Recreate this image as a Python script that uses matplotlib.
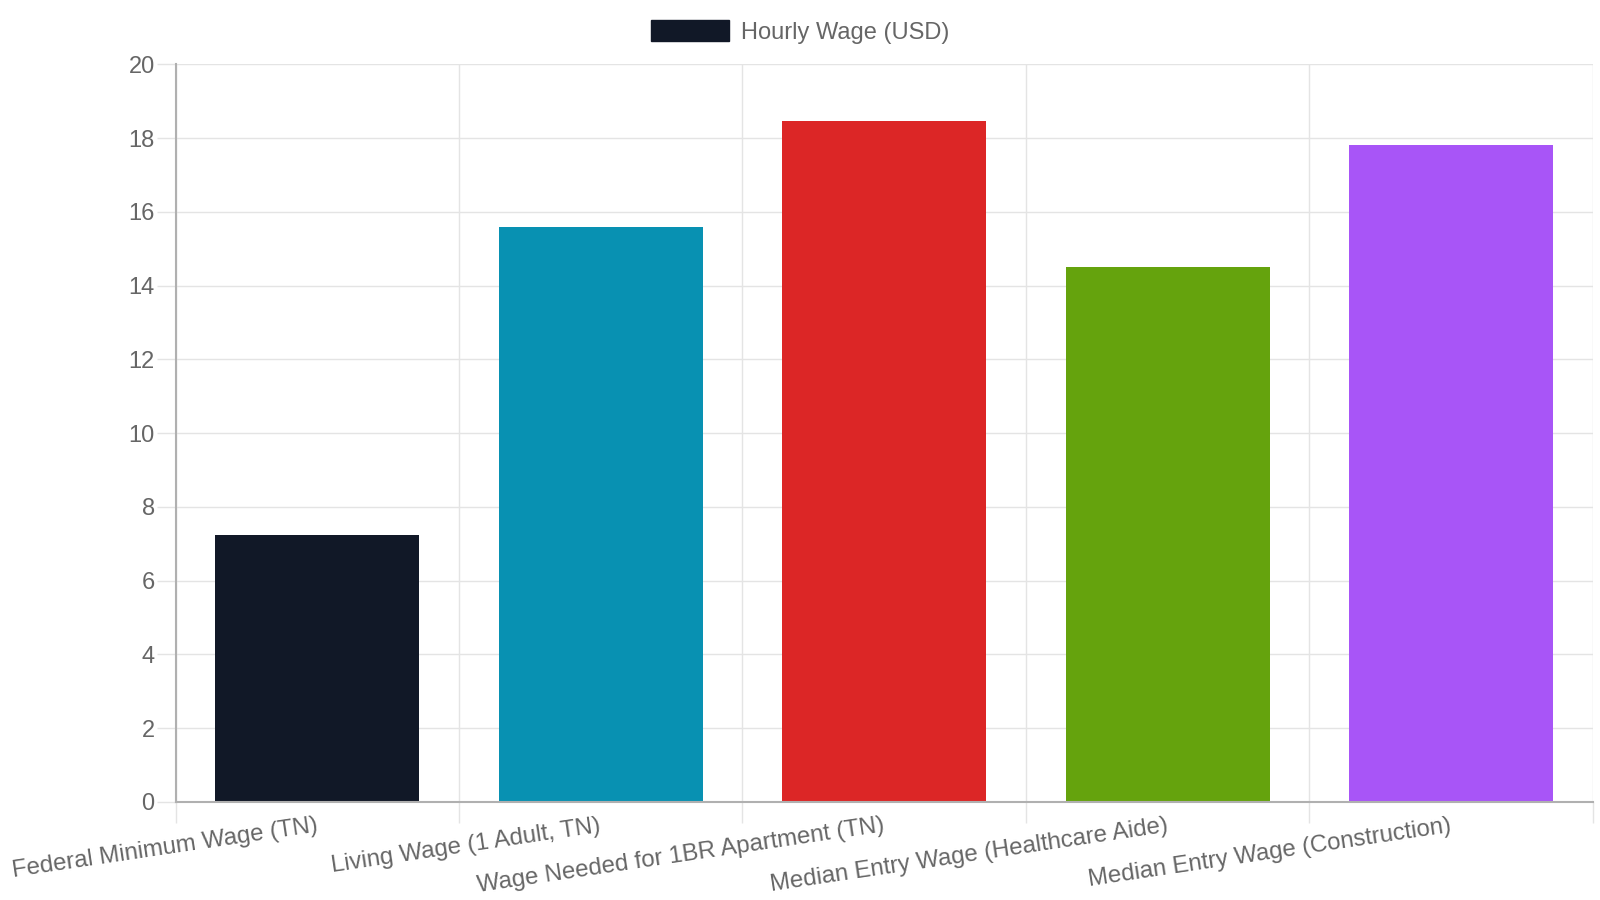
import matplotlib.pyplot as plt
from matplotlib.patches import Patch

categories = ['Federal Minimum Wage (TN)', 'Living Wage (1 Adult, TN)',
              'Wage Needed for 1BR Apartment (TN)', 'Median Entry Wage (Healthcare Aide)',
              'Median Entry Wage (Construction)']
wages = [7.25, 15.60, 18.45, 14.50, 17.80]
colors = ['#111827', '#0891b2', '#dc2626', '#65a30d', '#a855f7']
series_name = 'Hourly Wage (USD)'

plt.rcParams['font.family'] = ['Liberation Sans', 'DejaVu Sans']
text_col = '#666666'
grid_col = '#e4e4e4'
axis_col = '#b0b0b0'

fig = plt.figure(figsize=(16, 9), dpi=100)
ax = fig.add_axes([0.1097, 0.1089, 0.9956 - 0.1097, 0.9286 - 0.1089])

x = range(len(categories))
ax.bar(x, wages, width=0.72, color=colors, zorder=3)

ax.set_xlim(-0.5, len(categories) - 0.5)
ax.set_ylim(0, 20)
ax.set_yticks(range(0, 21, 2))

# grid lines sit between categories, labels at the centres
ax.set_xticks([i - 0.5 for i in range(len(categories) + 1)])
ax.set_xticklabels([])
ax.set_xticks(list(x), minor=True)
ax.set_xticklabels(categories, minor=True, rotation=8.5, ha='right', va='center',
                   rotation_mode='anchor', fontsize=17.3, color=text_col)
ax.tick_params(axis='x', which='minor', length=0, pad=17)
ax.tick_params(axis='x', which='major', length=15, color=grid_col, width=1)
ax.tick_params(axis='y', length=14, color=grid_col, width=1, labelsize=17,
               labelcolor=text_col, pad=1)

ax.grid(True, which='major', color=grid_col, linewidth=1, zorder=0)
for side in ['top', 'right']:
    ax.spines[side].set_visible(False)
for side in ['left', 'bottom']:
    ax.spines[side].set_color(axis_col)
    ax.spines[side].set_linewidth(1.5)
    ax.spines[side].set_zorder(4)

handle = Patch(facecolor=colors[0], edgecolor=colors[0])
fig.legend([handle], [series_name], loc='center', bbox_to_anchor=(0.5, 1 - 32 / 900),
           frameon=False, fontsize=17, labelcolor=text_col,
           handlelength=3.3, handleheight=1.0, handletextpad=0.5)

plt.savefig('out.png', dpi=100)
